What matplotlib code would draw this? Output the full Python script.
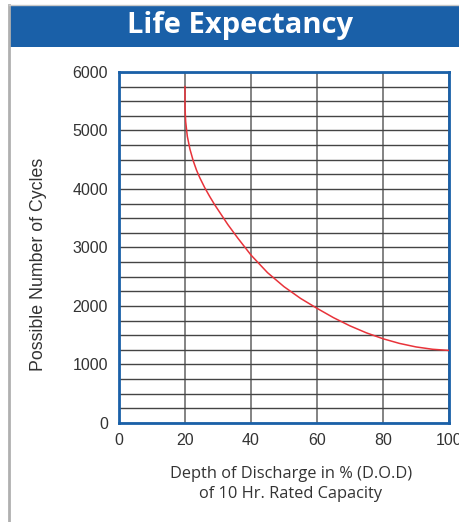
import matplotlib.pyplot as plt
from matplotlib.patches import Rectangle
from matplotlib.lines import Line2D

# depth of discharge (%) vs possible cycles
dod = [20, 20, 20.2, 20.7, 21.5, 22.5, 23.5, 24.5, 26, 27.5, 29, 31, 33, 36, 40, 45, 50,
       55, 60, 65, 70, 75, 80, 85, 90, 95, 100]
cycles = [5750, 5400, 5150, 4900, 4680, 4480, 4320, 4190, 4020, 3870, 3730, 3560, 3390,
          3160, 2870, 2570, 2330, 2130, 1960, 1800, 1660, 1540, 1440, 1360, 1300, 1260, 1240]

x_ticks = [0, 20, 40, 60, 80, 100]
y_ticks = [0, 1000, 2000, 3000, 4000, 5000, 6000]

title = "Life Expectancy"
xlabel = "Depth of Discharge in % (D.O.D)\nof 10 Hr. Rated Capacity"
ylabel = "Possible Number of Cycles"

blue = "#1a60a8"

fig = plt.figure(figsize=(4.6, 5.22), dpi=100)

# page frame and banner
fig.add_artist(Line2D([0.0196, 0.0196], [0, 0.99], color="#b0b0b0", lw=2,
                      transform=fig.transFigure))
fig.add_artist(Line2D([0.0196, 1], [0.99, 0.99], color="#c8c8c8", lw=1,
                      transform=fig.transFigure))
fig.add_artist(Rectangle((0.0217, 0.91), 0.98, 0.078, facecolor=blue,
                         edgecolor="none", transform=fig.transFigure))
fig.text(0.522, 0.952, title, color="white", fontsize=21, fontweight="bold",
         family="Open Sans", ha="center", va="center")

ax = fig.add_axes([0.2587, 0.1897, 0.7174, 0.6724])
ax.set_xlim(0, 100)
ax.set_ylim(0, 6000)
ax.set_xticks(x_ticks)
ax.set_yticks(y_ticks)
ax.set_yticks(range(250, 6000, 250), minor=True)
ax.tick_params(which="both", length=0, labelsize=11.5, colors="#333333")
ax.tick_params(axis="x", pad=7)
ax.tick_params(axis="y", pad=8)
for lab in ax.get_xticklabels() + ax.get_yticklabels():
    lab.set_family("Liberation Sans")

ax.grid(True, axis="x", color="#7a7a7a", lw=1.3)
ax.grid(True, axis="y", which="both", color="#444444", lw=1.0)
ax.set_axisbelow(True)

for s in ax.spines.values():
    s.set_color(blue)
    s.set_linewidth(2)

ax.plot(dod, cycles, color="#e8333a", lw=1.1, zorder=3)

fig.text(0.632, 0.073, xlabel, ha="center", va="center", fontsize=11.8,
         family="Open Sans", color="#333333", linespacing=1.35)
fig.text(0.083, 0.494, ylabel, ha="center", va="center", rotation=90,
         fontsize=12.8, family="Liberation Sans", color="#333333")

fig.savefig("out.png", dpi=100)
